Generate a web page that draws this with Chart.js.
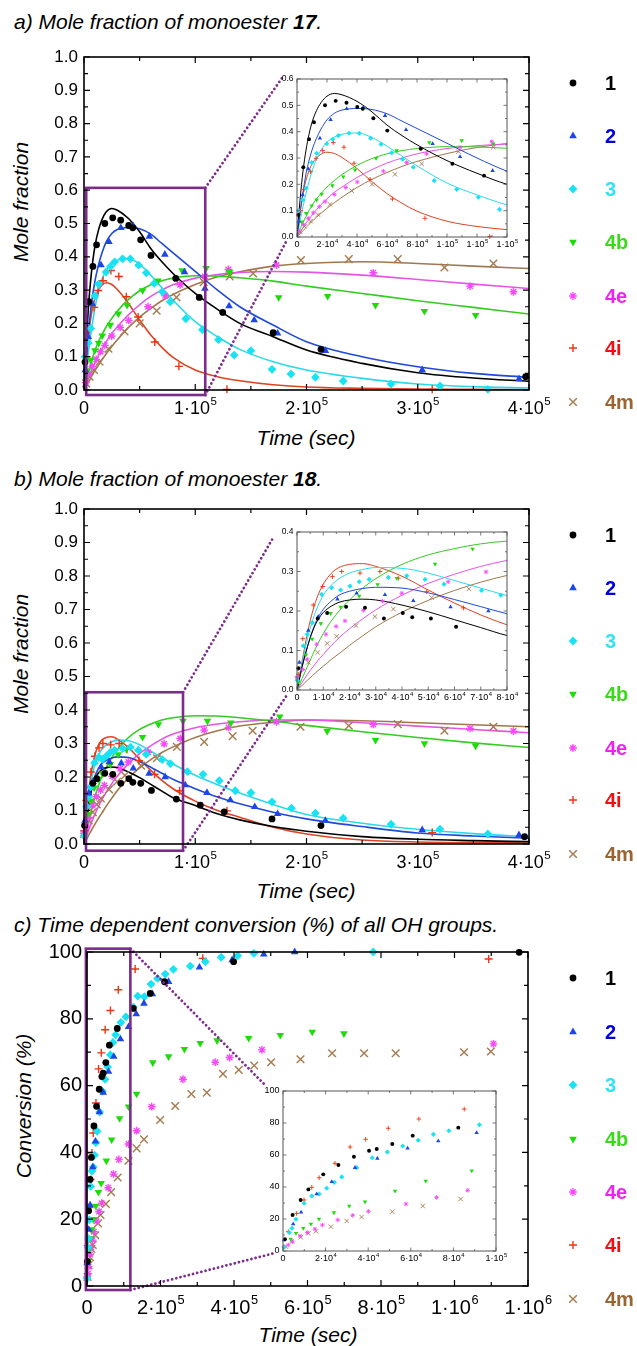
<!DOCTYPE html>
<html>
<head>
<meta charset="utf-8">
<script src="https://cdn.jsdelivr.net/npm/chart.js@4/dist/chart.umd.min.js"></script>
<style>
  body { margin: 0; width: 637px; height: 1346px; position: relative; overflow: hidden; background: #fff;
         font-family: "Liberation Sans", Arial, sans-serif; }
  canvas { position: absolute; }
  .t { position: absolute; white-space: nowrap; font-style: italic; font-size: 21px; line-height: 24px; color: #000; }
  .yt { transform: translate(-50%, -50%) rotate(-90deg); }
  .xt { transform: translate(-50%, -50%); }
  .leg { position: absolute; font-weight: bold; font-size: 20px; line-height: 24px; }
</style>
</head>
<body>
<div class="t" style="left:14px;top:10px">a) Mole fraction of monoester <b>17</b>.</div>
<div class="t" style="left:14px;top:467px">b) Mole fraction of monoester <b>18</b>.</div>
<div class="t" style="left:14px;top:913px">c) Time dependent conversion (%) of all OH groups.</div>
<div class="t yt" style="left:21px;top:202px">Mole fraction</div>
<div class="t yt" style="left:21px;top:654px">Mole fraction</div>
<div class="t yt" style="left:24px;top:1106px">Conversion (%)</div>
<div class="t xt" style="left:306px;top:438px">Time (sec)</div>
<div class="t xt" style="left:306px;top:891px">Time (sec)</div>
<div class="t xt" style="left:308px;top:1335px">Time (sec)</div>

<script>
// time in units of 10^3 s
const names = ['1', '2', '3', '4b', '4e', '4i', '4m'];

// ---- a) monoester 17: measured points [t, fraction]
const a_1 = [[0.9,0.084],[4.2,0.265],[8,0.371],[11.3,0.436],[18.7,0.5],[25.8,0.517],[33,0.51],[40.2,0.494],[43.8,0.487],[50.9,0.451],[60.2,0.404],[82.5,0.335],[103.6,0.278],[124.7,0.233],[170,0.172],[213,0.122],[397,0.04]];
const a_2 = [[1.2,0.06],[3.8,0.16],[7.5,0.258],[15.3,0.375],[22.4,0.445],[33.1,0.487],[44.2,0.492],[58.7,0.461],[72.7,0.407],[90.4,0.354],[108.7,0.305],[130.4,0.252],[153,0.21],[174,0.17],[217,0.118],[304,0.06],[391,0.033]];
const a_3 = [[1,0.1],[3.8,0.141],[6,0.185],[9.8,0.283],[13.1,0.318],[19.8,0.354],[23.8,0.371],[27.6,0.385],[34.7,0.394],[41.6,0.394],[49.1,0.375],[56,0.352],[63.1,0.32],[70.4,0.295],[77.5,0.265],[91.5,0.214],[106.5,0.181],[120.9,0.151],[135,0.105],[150,0.118],[169,0.062],[186,0.048],[208,0.038],[233,0.027],[276,0.018],[320,0.012],[363,0.002]];
const a_4b = [[3.1,0.058],[6,0.09],[9.8,0.119],[13.1,0.141],[16.4,0.163],[23.6,0.195],[30.9,0.229],[38.7,0.255],[52.7,0.299],[66.4,0.328],[88.2,0.359],[109.8,0.366],[130.9,0.354],[175,0.278],[219,0.282],[262,0.255],[306,0.237],[352,0.225]];
const a_4e = [[1.5,0.022],[4.2,0.048],[7.5,0.071],[10.9,0.092],[14.9,0.115],[18.7,0.134],[24.9,0.162],[32.5,0.188],[40.2,0.209],[57.6,0.25],[73.1,0.283],[86.4,0.316],[108.7,0.341],[129.8,0.362],[173,0.375],[260,0.352],[347,0.312],[386,0.295]];
const a_4i = [[2.4,0.1],[4.7,0.181],[9.1,0.248],[12.7,0.299],[17.1,0.328],[24.2,0.359],[31.3,0.341],[38,0.28],[48.7,0.219],[63.6,0.144],[85.3,0.071],[128.5,0.002],[313,0.002]];
const a_4m = [[2,0.02],[5,0.04],[9,0.06],[14,0.085],[22,0.124],[36.4,0.176],[50,0.2],[65.3,0.238],[83.1,0.278],[107.6,0.324],[130.9,0.341],[152,0.35],[195,0.39],[238,0.393],[282,0.393],[324,0.368],[368,0.38]];

// fitted curves, read at these times
const tFit = [0,2,4,6,8,10,13,16,20,25,30,40,50,60,70,80,100,120,140,170,200,250,300,350,400];
const fitA_1 = [0,0.14,0.25,0.33,0.39,0.435,0.48,0.51,0.535,0.545,0.54,0.515,0.475,0.425,0.385,0.35,0.29,0.242,0.2,0.16,0.12,0.08,0.052,0.036,0.026];
const fitA_2 = [0,0.09,0.17,0.24,0.29,0.33,0.375,0.41,0.445,0.47,0.482,0.488,0.484,0.468,0.44,0.412,0.356,0.3,0.25,0.195,0.145,0.1,0.07,0.05,0.038];
const fitA_3 = [0,0.06,0.115,0.165,0.21,0.25,0.295,0.33,0.36,0.38,0.39,0.395,0.378,0.345,0.307,0.27,0.205,0.16,0.122,0.085,0.06,0.035,0.018,0.01,0.006];
const fitA_4b = [0,0.03,0.055,0.078,0.1,0.12,0.145,0.165,0.19,0.215,0.237,0.272,0.298,0.316,0.328,0.336,0.343,0.342,0.337,0.327,0.312,0.29,0.268,0.248,0.228];
const fitA_4e = [0,0.018,0.036,0.053,0.068,0.083,0.104,0.123,0.145,0.17,0.19,0.226,0.256,0.281,0.3,0.316,0.336,0.347,0.353,0.356,0.354,0.345,0.332,0.318,0.305];
const fitA_4i = [0,0.09,0.165,0.215,0.252,0.277,0.3,0.315,0.322,0.317,0.302,0.26,0.21,0.165,0.128,0.098,0.06,0.04,0.028,0.016,0.009,0.005,0.003,0.002,0.001];
const fitA_4m = [0,0.012,0.024,0.036,0.048,0.059,0.075,0.09,0.109,0.131,0.151,0.188,0.219,0.245,0.268,0.287,0.317,0.34,0.355,0.372,0.38,0.385,0.38,0.372,0.365];

// ---- b) monoester 18
const b_1 = [[0.5,0.055],[7.9,0.181],[11.5,0.195],[18.7,0.211],[25.9,0.208],[33.1,0.181],[40.3,0.195],[43.9,0.184],[51,0.181],[60.6,0.16],[83,0.134],[104.5,0.116],[126,0.096],[169,0.075],[213,0.055],[396,0.022]];
const b_2 = [[0.9,0.07],[4.3,0.151],[8.1,0.186],[15.4,0.23],[22.7,0.245],[33.5,0.241],[44.3,0.226],[58.5,0.21],[72.9,0.2],[91,0.176],[110.5,0.153],[131.5,0.131],[153.5,0.111],[174,0.09],[217,0.07],[304,0.042],[391,0.027]];
const b_3 = [[0.1,0.025],[2.4,0.112],[3.9,0.141],[5.8,0.17],[9.4,0.242],[13.2,0.259],[16.6,0.253],[20.2,0.263],[23.7,0.274],[27.5,0.28],[34.8,0.285],[41.8,0.289],[48.8,0.28],[56,0.268],[70.3,0.252],[77.6,0.24],[93,0.216],[107,0.208],[121.6,0.189],[136,0.159],[150,0.153],[169,0.126],[186.5,0.107],[208,0.092],[233,0.077],[276,0.059],[320,0.044],[363,0.03]];
const b_4b = [[0.5,0.021],[3.4,0.089],[5.8,0.129],[9.1,0.168],[12.8,0.194],[16.6,0.21],[23.7,0.238],[30.7,0.267],[38,0.283],[52.6,0.319],[66.9,0.357],[89,0.367],[111,0.367],[132,0.362],[176,0.38],[218.6,0.337],[262,0.31],[306,0.3],[352,0.293]];
const b_4e = [[0,0.032],[2.2,0.052],[3.9,0.078],[7.5,0.116],[11,0.141],[14.9,0.161],[18.3,0.175],[25.3,0.202],[32.6,0.225],[39.9,0.245],[57.6,0.274],[72,0.299],[86.5,0.315],[108,0.34],[130,0.348],[173,0.365],[260,0.357],[347,0.345],[386,0.337]];
const b_4i = [[0.5,0.04],[2.2,0.13],[6.2,0.215],[9.8,0.262],[13.5,0.287],[17,0.3],[24,0.296],[31.6,0.3],[38.6,0.283],[49.4,0.249],[63.4,0.208],[86,0.159],[128.5,0.099],[313,0.034]];
const b_4m = [[0.1,0.03],[4.3,0.07],[7.9,0.095],[11.5,0.118],[15.1,0.136],[22.5,0.163],[29.7,0.186],[36.7,0.205],[51.3,0.234],[65.5,0.256],[83.5,0.29],[108,0.305],[133.6,0.322],[151.6,0.338],[194.6,0.35],[238,0.353],[282,0.358],[324,0.338],[368,0.35]];

const fitB_1 = [0,0.06,0.11,0.15,0.178,0.196,0.212,0.222,0.228,0.23,0.228,0.215,0.198,0.178,0.158,0.138,0.115,0.09,0.072,0.052,0.038,0.022,0.014,0.01,0.007];
const fitB_2 = [0,0.06,0.11,0.152,0.183,0.204,0.225,0.24,0.25,0.257,0.26,0.258,0.246,0.229,0.211,0.193,0.165,0.14,0.12,0.095,0.075,0.052,0.033,0.024,0.017];
const fitB_3 = [0,0.07,0.13,0.178,0.213,0.24,0.265,0.282,0.296,0.305,0.31,0.308,0.296,0.277,0.258,0.239,0.205,0.177,0.152,0.118,0.088,0.062,0.044,0.031,0.022];
const fitB_4b = [0,0.03,0.06,0.09,0.118,0.143,0.174,0.2,0.228,0.258,0.282,0.318,0.342,0.358,0.37,0.377,0.383,0.382,0.377,0.367,0.354,0.335,0.318,0.302,0.288];
const fitB_4e = [0,0.02,0.04,0.058,0.075,0.09,0.112,0.132,0.155,0.18,0.203,0.24,0.27,0.293,0.313,0.328,0.347,0.358,0.365,0.37,0.37,0.362,0.352,0.342,0.332];
const fitB_4i = [0,0.075,0.145,0.2,0.24,0.268,0.295,0.31,0.318,0.32,0.313,0.288,0.253,0.22,0.19,0.165,0.128,0.1,0.08,0.05,0.03,0.012,0.006,0.004,0.003];
const fitB_4m = [0,0.012,0.025,0.037,0.049,0.06,0.077,0.092,0.113,0.137,0.16,0.197,0.227,0.252,0.273,0.29,0.318,0.338,0.352,0.363,0.37,0.368,0.362,0.356,0.35];

// ---- c) conversion of OH groups [t, %]
const c_1 = [[0.9,7.3],[4.5,22.5],[8.3,31.9],[11.9,38.5],[18.9,47.9],[26,53.8],[33.3,58.9],[40.4,62.7],[44,63.7],[51.3,66.9],[60.9,72.1],[82.3,77.1],[126,83.1],[172,87.6],[211,91.1],[399,97.1],[1176,99.9]];
const c_2 = [[0.5,6.9],[4.8,16.9],[8.5,24.2],[15.8,35.6],[22.9,43.3],[33.8,52.1],[44.3,57.9],[58.5,64.2],[72.9,68.7],[90.9,73.9],[113,77.6],[134,81.4],[155,84.6],[178,87.4],[222,91.1],[306,95.4],[395,97.6],[481,99.3],[565,100]];
const c_3 = [[0.5,2.3],[3,11.5],[4.2,14.2],[6.1,19.8],[9.9,29.8],[13.5,34.4],[17,35.6],[20.5,39.2],[24.1,42.9],[27.6,46.3],[34.6,52.1],[41.9,58.3],[49,61.9],[56.2,65.6],[63.5,69.2],[70.6,72.9],[77.9,75.2],[92.2,78.9],[106,80.6],[126,83.5],[138,86.8],[156,86.6],[174,90.4],[192,92.1],[213,93.4],[235,94.8],[281,95.8],[322,97.1],[365,98.4],[410,98.9],[454,99.6],[779,100]];
const c_4b = [[3.6,7.5],[6.1,11.1],[9.5,14.2],[13.1,16.9],[16.9,20],[23.9,24],[31.1,28.1],[38.5,30.8],[52.6,37.5],[67,43.8],[88.6,50.2],[113,53.7],[135,57.5],[179,66.9],[222,68.7],[265,70.9],[308,72.7],[354,73.5],[440,74.2],[526,75.1],[613,76.1],[699,75.6]];
const c_4e = [[0.5,2.7],[2.5,3.75],[4.5,5.8],[8,9.4],[11.4,11.5],[15,13.75],[18.5,16.25],[25.7,19.4],[32.7,22.3],[40.1,24.8],[57.7,29.4],[72.1,33.5],[86.7,37.9],[113,42.5],[135,46.5],[176,53.7],[261,61.9],[349,67],[388,68.4],[476,70.7],[1106,72.5]];
const c_4i = [[2.5,12.1],[6.4,23.5],[9.9,31.9],[13.5,39.8],[17,45.8],[24.4,54.8],[31.5,65],[38.8,69.8],[49.4,76.7],[63.8,82.5],[85.1,88.7],[131,94.9],[315,98.1],[1093,97.9]];
const c_4m = [[1.4,2.7],[4.1,6.25],[8.3,8.6],[11.9,11.1],[15.5,12.3],[22.5,15.2],[29.9,18.75],[36.9,21.25],[51.3,24.6],[65.6,28.1],[83.4,32.5],[113,37.5],[135,41.2],[155,43.9],[199,49.7],[240,53.9],[284,57.5],[326,57.9],[370,63.5],[413,64.7],[455,66],[501,67],[581,67.9],[667,69.7],[754,69.7],[840,69.7],[1026,70],[1099,70.2]];

// ---- tick labels
const xTicksAB = [0, 1e5, 2e5, 3e5, 4e5];
const xLabelsAB = ['0', '1·10^5', '2·10^5', '3·10^5', '4·10^5'];
const yTicksAB = [0, 0.1, 0.2, 0.3, 0.4, 0.5, 0.6, 0.7, 0.8, 0.9, 1.0];
const yLabelsAB = ['0.0', '0.1', '0.2', '0.3', '0.4', '0.5', '0.6', '0.7', '0.8', '0.9', '1.0'];
const xTicksC = [0, 2e5, 4e5, 6e5, 8e5, 1e6, 1.2e6];
const xLabelsC = ['0', '2·10^5', '4·10^5', '6·10^5', '8·10^5', '1·10^6', '1·10^6'];
const yTicksC = [0, 20, 40, 60, 80, 100];
const yLabelsC = ['0', '20', '40', '60', '80', '100'];
const xTicksInA = [0, 2e4, 4e4, 6e4, 8e4, 1e5, 1.2e5, 1.4e5];
const xLabelsInA = ['0', '2·10^4', '4·10^4', '6·10^4', '8·10^4', '1·10^5', '1·10^5', '1·10^5'];
const yTicksInA = [0, 0.1, 0.2, 0.3, 0.4, 0.5, 0.6];
const yLabelsInA = ['0.0', '0.1', '0.2', '0.3', '0.4', '0.5', '0.6'];
const xTicksInB = [0, 1e4, 2e4, 3e4, 4e4, 5e4, 6e4, 7e4, 8e4];
const xLabelsInB = ['0', '1·10^4', '2·10^4', '3·10^4', '4·10^4', '5·10^4', '6·10^4', '7·10^4', '8·10^4'];
const yTicksInB = [0, 0.1, 0.2, 0.3, 0.4];
const yLabelsInB = ['0.0', '0.1', '0.2', '0.3', '0.4'];
const xTicksInC = [0, 2e4, 4e4, 6e4, 8e4, 1e5];
const xLabelsInC = ['0', '2·10^4', '4·10^4', '6·10^4', '8·10^4', '1·10^5'];

// ---- looks
const FONT = '"Liberation Sans", Arial, sans-serif';
const PURPLE = '#7d2b8c';
const STYLE = [
  { shape: 'circle',   r: 3.4, color: '#000000', line: '#000000', text: '#000000' },
  { shape: 'triangle', r: 4.4, color: '#1c46e8', line: '#1f49d8', text: '#0000e0' },
  { shape: 'rectRot',  r: 4.4, color: '#19e3f2', line: '#2bd9ea', text: '#33e3ef' },
  { shape: 'triangle', r: 4.4, rot: 180, color: '#1edc0a', line: '#33cc22', text: '#3ada1a' },
  { shape: 'star',     r: 3.9, color: '#f64af6', line: '#e455e4', text: '#ee22ee', stroke: true },
  { shape: 'cross',    r: 4.0, color: '#ee3311', line: '#dd4422', text: '#ee1111', stroke: true },
  { shape: 'crossRot', r: 5.4, color: '#a57a4f', line: '#a0784c', text: '#996633', stroke: true }
];

function pointSets(list, big) {
  return list.map((pts, i) => {
    const s = STYLE[i];
    return {
      type: 'scatter',
      data: pts.map(p => ({ x: p[0] * 1000, y: p[1] })),
      pointStyle: s.shape,
      pointRotation: s.rot || 0,
      pointRadius: s.r * (big ? 1 : 0.58),
      pointBackgroundColor: s.color,
      pointBorderColor: s.color,
      pointBorderWidth: s.stroke ? (big ? 1.4 : 0.9) : 0,
      showLine: false,
      clip: 5,
      order: 1
    };
  });
}

function fitSets(list, big) {
  return list.map((f, i) => ({
    type: 'line',
    data: tFit.map((t, k) => ({ x: t * 1000, y: f[k] })),
    borderColor: STYLE[i].line,
    borderWidth: big ? 1.6 : 1,
    pointRadius: 0,
    cubicInterpolationMode: 'monotone',
    fill: false,
    order: 2
  }));
}

function drawLabel(ctx, text, x, y, size, align) {
  const parts = text.split('^');
  ctx.textBaseline = 'middle';
  if (parts.length === 1) {
    ctx.font = size + 'px ' + FONT;
    ctx.textAlign = align;
    ctx.fillText(text, x, y);
    return;
  }
  const fb = size + 'px ' + FONT, fs = (size * 0.64).toFixed(1) + 'px ' + FONT;
  ctx.font = fb; const wb = ctx.measureText(parts[0]).width;
  ctx.font = fs; const ws = ctx.measureText(parts[1]).width;
  const x0 = align === 'center' ? x - (wb + ws) / 2 : align === 'right' ? x - wb - ws : x;
  ctx.textAlign = 'left';
  ctx.font = fb; ctx.fillText(parts[0], x0, y);
  ctx.font = fs; ctx.fillText(parts[1], x0 + wb + 0.5, y - size * 0.4);
}

function drawMarker(ctx, s, x, y) {
  const r = s.r;
  ctx.fillStyle = s.color; ctx.strokeStyle = s.color; ctx.lineWidth = 1.4;
  ctx.beginPath();
  if (s.shape === 'circle') { ctx.arc(x, y, r, 0, Math.PI * 2); ctx.fill(); return; }
  if (s.shape === 'triangle') {
    const d = s.rot ? -1 : 1;
    ctx.moveTo(x, y - d * r); ctx.lineTo(x + r * 0.87, y + d * r * 0.5); ctx.lineTo(x - r * 0.87, y + d * r * 0.5);
    ctx.closePath(); ctx.fill(); return;
  }
  if (s.shape === 'rectRot') {
    ctx.moveTo(x, y - r); ctx.lineTo(x + r, y); ctx.lineTo(x, y + r); ctx.lineTo(x - r, y);
    ctx.closePath(); ctx.fill(); return;
  }
  const q = r * 0.707;
  if (s.shape === 'cross' || s.shape === 'star') {
    ctx.moveTo(x - r, y); ctx.lineTo(x + r, y); ctx.moveTo(x, y - r); ctx.lineTo(x, y + r);
  }
  if (s.shape === 'crossRot' || s.shape === 'star') {
    ctx.moveTo(x - q, y - q); ctx.lineTo(x + q, y + q); ctx.moveTo(x - q, y + q); ctx.lineTo(x + q, y - q);
  }
  ctx.stroke();
}

function near(v, step) { const q = v / step; return Math.abs(q - Math.round(q)) < 1e-6; }

function decor(o) {
  return {
    id: 'decor',
    beforeDraw(chart) {
      if (!o.white) return;
      const a = chart.chartArea, ctx = chart.ctx;
      ctx.save(); ctx.fillStyle = '#fff';
      ctx.fillRect(a.left, a.top, a.right - a.left, a.bottom - a.top);
      ctx.restore();
    },
    afterDatasetsDraw(chart) {
      if (!o.box) return;
      const ctx = chart.ctx, xs = chart.scales.x, ys = chart.scales.y, b = o.box;
      const x0 = xs.getPixelForValue(b.x[0]), x1 = xs.getPixelForValue(b.x[1]);
      const yb = ys.getPixelForValue(b.y[0]), yt = ys.getPixelForValue(b.y[1]);
      ctx.save();
      ctx.strokeStyle = PURPLE;
      ctx.setLineDash([0.01, 4.3]); ctx.lineCap = 'round'; ctx.lineWidth = 2.8;
      ctx.beginPath();
      ctx.moveTo(x1, yt); ctx.lineTo(b.to[0][0] - o.left, b.to[0][1] - o.top);
      ctx.moveTo(x1, yb); ctx.lineTo(b.to[1][0] - o.left, b.to[1][1] - o.top);
      ctx.stroke();
      ctx.setLineDash([]); ctx.lineCap = 'butt'; ctx.lineWidth = 2.6;
      ctx.strokeRect(x0, yt, x1 - x0, yb - yt);
      ctx.restore();
    },
    afterDraw(chart) {
      const ctx = chart.ctx, a = chart.chartArea, xs = chart.scales.x, ys = chart.scales.y;
      ctx.save();
      ctx.strokeStyle = o.frame; ctx.lineWidth = o.frameW;
      ctx.strokeRect(a.left, a.top, a.right - a.left, a.bottom - a.top);
      ctx.lineWidth = o.tickW;
      ctx.beginPath();
      const nx = Math.round((xs.max - xs.min) / o.xMinor);
      for (let i = 0; i <= nx; i++) {
        const v = xs.min + i * o.xMinor, px = xs.getPixelForValue(v);
        const L = near(v, o.xMajor) ? o.tick : o.minor;
        ctx.moveTo(px, a.bottom); ctx.lineTo(px, a.bottom - L);
        ctx.moveTo(px, a.top); ctx.lineTo(px, a.top + L);
      }
      const ny = Math.round((ys.max - ys.min) / o.yMinor);
      for (let i = 0; i <= ny; i++) {
        const v = ys.min + i * o.yMinor, py = ys.getPixelForValue(v);
        const L = near(v, o.yMajor) ? o.tick : o.minor;
        ctx.moveTo(a.left, py); ctx.lineTo(a.left + L, py);
        ctx.moveTo(a.right, py); ctx.lineTo(a.right - L, py);
      }
      ctx.stroke();
      ctx.fillStyle = '#000';
      o.xTicks.forEach((v, i) => drawLabel(ctx, o.xLabels[i], xs.getPixelForValue(v), a.bottom + o.xOff, o.xSize, 'center'));
      o.yTicks.forEach((v, i) => drawLabel(ctx, o.yLabels[i], a.left - o.yOff, ys.getPixelForValue(v), o.ySize, 'right'));
      if (o.legend) {
        o.legend.forEach((y, i) => drawMarker(ctx, STYLE[i], 573 - o.left, y - o.top));
      }
      ctx.restore();
    }
  };
}

function makeChart(pos, pad, xr, yr, datasets, o) {
  const cv = document.createElement('canvas');
  cv.width = pos[2]; cv.height = pos[3];
  cv.style.left = pos[0] + 'px'; cv.style.top = pos[1] + 'px';
  document.body.appendChild(cv);
  o.left = pos[0]; o.top = pos[1];
  return new Chart(cv, {
    type: 'scatter',
    data: { datasets },
    options: {
      responsive: false, animation: false, events: [],
      layout: { padding: { left: pad[0], top: pad[1], right: pad[2], bottom: pad[3] } },
      scales: {
        x: { type: 'linear', display: false, min: xr[0], max: xr[1] },
        y: { type: 'linear', display: false, min: yr[0], max: yr[1] }
      },
      plugins: { legend: { display: false }, tooltip: { enabled: false } }
    },
    plugins: [decor(o)]
  });
}

function legendLabels(rows) {
  rows.forEach((y, i) => {
    const d = document.createElement('div');
    d.className = 'leg';
    d.style.left = '605px'; d.style.top = (y - 12) + 'px';
    d.style.color = STYLE[i].text;
    d.textContent = names[i];
    document.body.appendChild(d);
  });
}

const ptsA = [a_1, a_2, a_3, a_4b, a_4e, a_4i, a_4m];
const ptsB = [b_1, b_2, b_3, b_4b, b_4e, b_4i, b_4m];
const ptsC = [c_1, c_2, c_3, c_4b, c_4e, c_4i, c_4m];
const fitsA = [fitA_1, fitA_2, fitA_3, fitA_4b, fitA_4e, fitA_4i, fitA_4m];
const fitsB = [fitB_1, fitB_2, fitB_3, fitB_4b, fitB_4e, fitB_4i, fitB_4m];

const legA = [83, 136, 189, 242, 296, 348, 402];
const legB = legA.map(y => y + 452);
const legC = [978, 1032, 1085, 1139, 1192, 1245, 1299];

const mainAB = { frame: '#000', frameW: 1.6, tickW: 1.2, tick: 6, minor: 4, xOff: 19, yOff: 6, xSize: 18, ySize: 17,
                 xMajor: 1e5, xMinor: 5e4, yMajor: 0.1, yMinor: 0.05, xTicks: xTicksAB, xLabels: xLabelsAB, yTicks: yTicksAB, yLabels: yLabelsAB };
const insetBase = { frame: '#555', frameW: 1, tickW: 0.8, tick: 3.5, minor: 2, xOff: 7.5, yOff: 3.5, xSize: 9, ySize: 8.5, white: true };

// a) main + inset
makeChart([0, 0, 637, 450], [84, 57, 108, 60], [0, 4e5], [0, 1],
  [...pointSets(ptsA, true), ...fitSets(fitsA, true)],
  Object.assign({}, mainAB, { legend: legA, box: { x: [2e3, 1.09e5], y: [-0.015, 0.607], to: [[282, 78], [287, 240]] } }));
makeChart([265, 70, 275, 190], [32, 9, 33, 23], [0, 1.4e5], [0, 0.6],
  [...pointSets(ptsA, false), ...fitSets(fitsA, false)],
  Object.assign({}, insetBase, { xMajor: 2e4, xMinor: 1e4, yMajor: 0.1, yMinor: 0.05,
    xTicks: xTicksInA, xLabels: xLabelsInA, yTicks: yTicksInA, yLabels: yLabelsInA }));

// b) main + inset
makeChart([0, 450, 637, 450], [84, 59, 108, 56], [0, 4e5], [0, 1],
  [...pointSets(ptsB, true), ...fitSets(fitsB, true)],
  Object.assign({}, mainAB, { legend: legB, box: { x: [1.8e3, 8.9e4], y: [-0.02, 0.453], to: [[273, 538], [287, 695]] } }));
makeChart([265, 523, 275, 190], [32, 9, 33, 23], [0, 8e4], [0, 0.4],
  [...pointSets(ptsB, false), ...fitSets(fitsB, false)],
  Object.assign({}, insetBase, { xMajor: 1e4, xMinor: 5e3, yMajor: 0.1, yMinor: 0.05,
    xTicks: xTicksInB, xLabels: xLabelsInB, yTicks: yTicksInB, yLabels: yLabelsInB }));

// c) main + inset (points only)
makeChart([0, 900, 637, 446], [87, 52, 109, 60], [0, 1.2e6], [0, 100],
  pointSets(ptsC, true),
  Object.assign({}, mainAB, { xOff: 22, yOff: 5, xSize: 20, ySize: 20, xMajor: 2e5, xMinor: 1e5, yMajor: 20, yMinor: 10,
    xTicks: xTicksC, xLabels: xLabelsC, yTicks: yTicksC, yLabels: yLabelsC,
    legend: legC, box: { x: [-3e3, 1.18e5], y: [-1.2, 101], to: [[265, 1085], [275, 1253]] } }));
makeChart([250, 1082, 280, 190], [33, 9, 34, 21], [0, 1e5], [0, 100],
  pointSets(ptsC, false),
  Object.assign({}, insetBase, { xMajor: 2e4, xMinor: 1e4, yMajor: 20, yMinor: 10, ySize: 9,
    xTicks: xTicksInC, xLabels: xLabelsInC, yTicks: yTicksC, yLabels: yLabelsC }));

legendLabels(legA);
legendLabels(legB);
legendLabels(legC);
</script>
</body>
</html>
